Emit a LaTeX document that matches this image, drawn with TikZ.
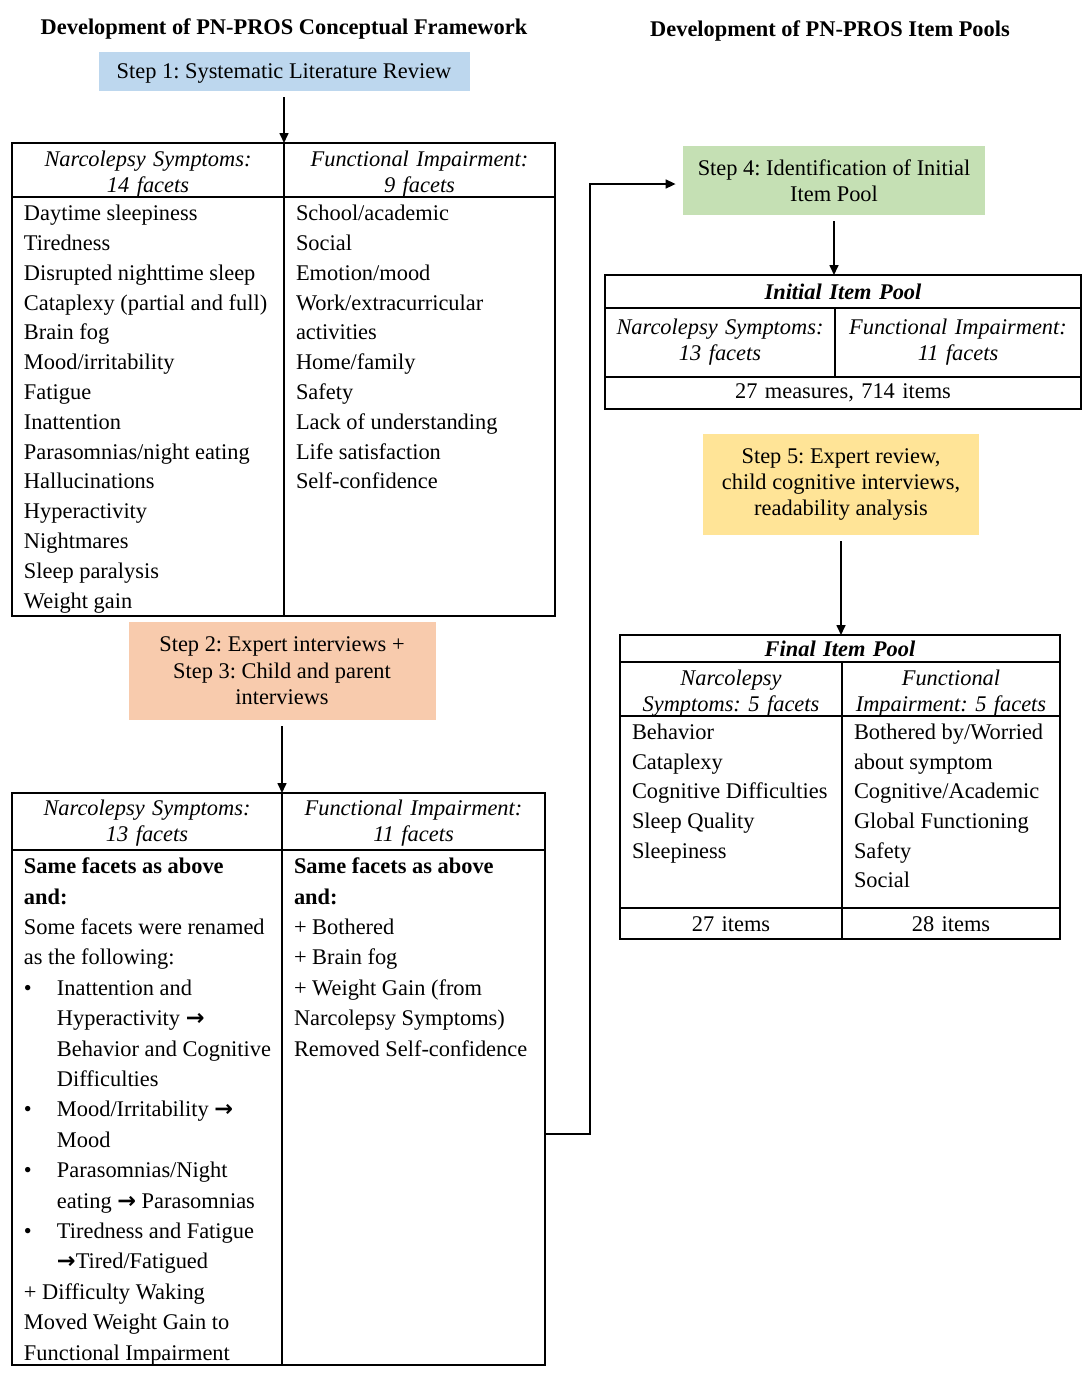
\documentclass[tikz,border=0pt]{standalone}
\usepackage{fontspec}
\setmainfont{Liberation Serif}
\newfontfamily\arrowfont{DejaVu Sans}
\usetikzlibrary{positioning, arrows.meta}
\frenchspacing

\definecolor{stepblue}{HTML}{BDD7EE}
\definecolor{steporange}{HTML}{F8CBAD}
\definecolor{stepgreen}{HTML}{C5E0B4}
\definecolor{stepyellow}{HTML}{FFE497}

\newcommand{\cellbody}[3]{\parbox[t][#1][t]{#2}{\raggedright\leftskip=3pt #3}}
\newcommand{\rarr}{{\arrowfont\bfseries →}}
\newcommand{\bul}{\makebox[16.5pt][l]{\textbullet}}
\newcommand{\ind}{\hspace*{16.5pt}}
\newcommand{\lift}[1]{\rule{0pt}{#1}}

\begin{document}
\begin{tikzpicture}[
    x=0.5pt, y=-0.5pt,
    font=\fontsize{11.2}{13.2}\selectfont,
    title/.style={font=\fontsize{11.2}{13.2}\selectfont\bfseries},
    stepbox/.style={align=center, inner sep=2pt},
    cell/.style={draw, line width=0.9pt, outer sep=0pt, inner xsep=3pt, inner ysep=4pt},
    head/.style={cell, align=center, inner ysep=0pt, font=\fontsize{11.2}{13}\selectfont\itshape},
    foot/.style={cell, align=center, inner ysep=1pt},
    arr/.style={-{Triangle[length=5pt,width=4.5pt]}, line width=0.8pt, shorten <=3pt}
]
\useasboundingbox (0,0) rectangle (1092,1378);

% titles
\node[title] (titleL) at (284,29) {Development of PN-PROS Conceptual Framework};
\node[title] (titleR) at (830,31) {Development of PN-PROS Item Pools};

% conceptual framework, left side
\node[stepbox, fill=stepblue, minimum width=185.5pt, minimum height=19.5pt, text depth=0pt] (step1) at (284,71.5)
    {Step 1: Systematic Literature Review};

\node[head, text width=130pt, minimum width=136pt, minimum height=26.5pt, anchor=north west] (nsA) at (12,143)
    {\lift{11.7pt}Narcolepsy Symptoms:\\14 facets};
\node[head, text width=129.5pt, minimum width=135.5pt, minimum height=26.5pt, right=0pt of nsA] (fiA)
    {\lift{11.7pt}Functional Impairment:\\9 facets};
\node[cell, below=0pt of nsA, font=\fontsize{11.2}{14.9}\selectfont] (nsAbody)
    {\cellbody{201.5pt}{130pt}{Daytime sleepiness\\ Tiredness\\ Disrupted nighttime sleep\\
    Cataplexy (partial and full)\\ Brain fog\\ Mood/irritability\\ Fatigue\\ Inattention\\
    Parasomnias/night eating\\ Hallucinations\\ Hyperactivity\\ Nightmares\\ Sleep paralysis\\ Weight gain}};
\node[cell, below=0pt of fiA, font=\fontsize{11.2}{14.9}\selectfont] (fiAbody)
    {\cellbody{201.5pt}{129.5pt}{School/academic\\ Social\\ Emotion/mood\\ Work/extracurricular\\
    activities\\ Home/family\\ Safety\\ Lack of understanding\\ Life satisfaction\\ Self-confidence}};

\node[stepbox, fill=steporange, minimum width=153.5pt, minimum height=49pt] (step2) at (282,671)
    {Step 2: Expert interviews +\\Step 3: Child and parent\\interviews};

\node[head, text width=129pt, minimum width=135pt, minimum height=28.5pt, anchor=north west] (nsB) at (12,793)
    {\lift{9.7pt}Narcolepsy Symptoms:\\13 facets};
\node[head, text width=125.5pt, minimum width=131.5pt, minimum height=28.5pt, right=0pt of nsB] (fiB)
    {\lift{9.7pt}Functional Impairment:\\11 facets};
\node[cell, below=0pt of nsB, font=\fontsize{11.2}{15.2}\selectfont] (nsBbody)
    {\cellbody{249.5pt}{129pt}{\textbf{Same facets as above}\\ \textbf{and:}\\
    Some facets were renamed\\ as the following:\\
    \bul Inattention and\\ \ind Hyperactivity \rarr\\ \ind Behavior and Cognitive\\ \ind Difficulties\\
    \bul Mood/Irritability \rarr\\ \ind Mood\\
    \bul Parasomnias/Night\\ \ind eating \rarr{} Parasomnias\\
    \bul Tiredness and Fatigue\\ \ind\rarr Tired/Fatigued\\
    + Difficulty Waking\\ Moved Weight Gain to\\ Functional Impairment}};
\node[cell, below=0pt of fiB, font=\fontsize{11.2}{15.2}\selectfont] (fiBbody)
    {\cellbody{249.5pt}{125.5pt}{\textbf{Same facets as above}\\ \textbf{and:}\\
    + Bothered\\ + Brain fog\\ + Weight Gain (from\\ Narcolepsy Symptoms)\\ Removed Self-confidence}};

% item pools, right side
\node[stepbox, fill=stepgreen, minimum width=151pt, minimum height=34.5pt] (step4) at (834,180.5)
    {Step 4: Identification of Initial\\Item Pool};

\node[head, text width=232pt, minimum width=238pt, minimum height=16.5pt, anchor=north west,
    font=\fontsize{11.2}{13}\selectfont\bfseries\itshape] (ipHead) at (605,275) {Initial Item Pool};
\node[head, text width=109pt, minimum width=115pt, minimum height=34.5pt,
    below=0pt of ipHead.south west, anchor=north west] (ipNS) {Narcolepsy Symptoms:\\13 facets};
\node[head, text width=117pt, minimum width=123pt, minimum height=34.5pt, right=0pt of ipNS] (ipFI)
    {Functional Impairment:\\11 facets};
\node[foot, text width=232pt, minimum width=238pt, minimum height=16pt,
    below=0pt of ipNS.south west, anchor=north west] (ipFoot) {27 measures, 714 items};

\node[stepbox, fill=stepyellow, minimum width=138pt, minimum height=50.5pt] (step5) at (841,484.5)
    {Step 5: Expert review,\\child cognitive interviews,\\readability analysis};

\node[head, text width=214pt, minimum width=220pt, minimum height=13.5pt, anchor=north west,
    font=\fontsize{11.2}{13}\selectfont\bfseries\itshape] (fpHead) at (620,635) {Final Item Pool};
\node[head, text width=105pt, minimum width=111pt, minimum height=26.5pt,
    below=0pt of fpHead.south west, anchor=north west] (fpNS) {\lift{11.7pt}Narcolepsy\\Symptoms: 5 facets};
\node[head, text width=103pt, minimum width=109pt, minimum height=26.5pt, right=0pt of fpNS] (fpFI)
    {\lift{11.7pt}Functional\\Impairment: 5 facets};
\node[cell, below=0pt of fpNS, font=\fontsize{11.2}{14.8}\selectfont] (fpNSbody)
    {\cellbody{88pt}{105pt}{Behavior\\ Cataplexy\\ Cognitive Difficulties\\ Sleep Quality\\ Sleepiness}};
\node[cell, below=0pt of fpFI, font=\fontsize{11.2}{14.8}\selectfont] (fpFIbody)
    {\cellbody{88pt}{103pt}{Bothered by/Worried\\ about symptom\\ Cognitive/Academic\\ Global Functioning\\ Safety\\ Social}};
\node[foot, text width=105pt, minimum width=111pt, minimum height=15.5pt, below=0pt of fpNSbody] (fpNSfoot) {27 items};
\node[foot, text width=103pt, minimum width=109pt, minimum height=15.5pt, below=0pt of fpFIbody] (fpFIfoot) {28 items};

% connectors
\coordinate (elbow) at (590,1134);
\draw[arr] (step1) -- (step1 |- nsA.north);
\draw[arr] (step2) -- (step2 |- nsB.north);
\draw[arr] (step4) -- (step4 |- ipHead.north);
\draw[arr] (step5) -- (step5 |- fpHead.north);
\draw[arr, shorten <=0pt, shorten >=3.5pt] (elbow -| fiBbody.east) -- (elbow) |- ([yshift=-1.75pt]step4.west);

\end{tikzpicture}
\end{document}
